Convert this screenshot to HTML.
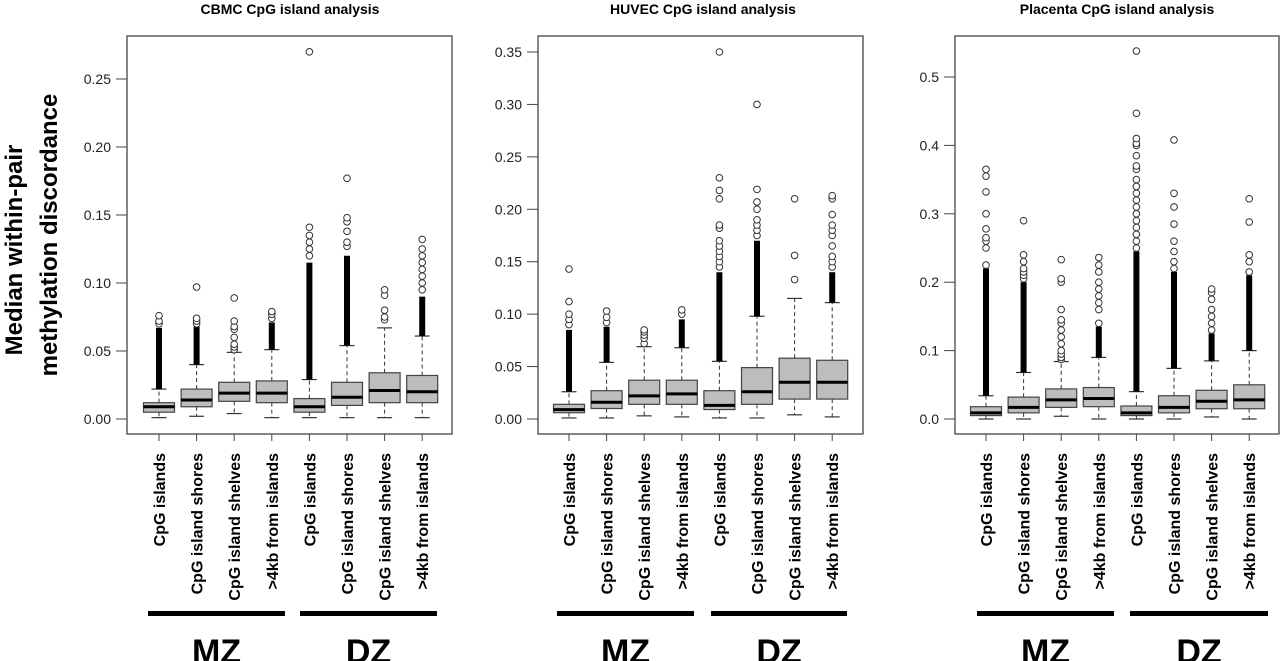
<!DOCTYPE html>
<html><head><meta charset="utf-8">
<style>
html,body{margin:0;padding:0;background:#fff;}
svg{display:block;}
text{font-family:"Liberation Sans",Arial,sans-serif;}
</style></head>
<body>
<svg id="chart" width="1280" height="661" viewBox="0 0 1280 661" xmlns="http://www.w3.org/2000/svg">
<g>
<text x="22" y="250" transform="rotate(-90 22 250)" text-anchor="middle" font-size="24" font-weight="bold" fill="#000">Median within-pair</text>
<text x="57" y="235" transform="rotate(-90 57 235)" text-anchor="middle" font-size="24" font-weight="bold" fill="#000">methylation discordance</text>
</g>
</svg>
<script>
// categories
const categories = ["CpG islands","CpG island shores","CpG island shelves",">4kb from islands","CpG islands","CpG island shores","CpG island shelves",">4kb from islands"];
const groupLabels = ["MZ","DZ"];
const panelTitles = ["CBMC CpG island analysis","HUVEC CpG island analysis","Placenta  CpG island analysis"];
// tick labels
const ticksCBMC = [0.00,0.05,0.10,0.15,0.20,0.25];
const tickLabelsCBMC = ["0.00","0.05","0.10","0.15","0.20","0.25"];
const ticksHUVEC = [0.00,0.05,0.10,0.15,0.20,0.25,0.30,0.35];
const tickLabelsHUVEC = ["0.00","0.05","0.10","0.15","0.20","0.25","0.30","0.35"];
const ticksPlac = [0.0,0.1,0.2,0.3,0.4,0.5];
const tickLabelsPlac = ["0.0","0.1","0.2","0.3","0.4","0.5"];
// CBMC box stats
const cbmcLow = [0.001,0.002,0.004,0.001,0.001,0.001,0.001,0.001];
const cbmcQ1 = [0.005,0.009,0.013,0.012,0.005,0.010,0.012,0.012];
const cbmcMed = [0.009,0.014,0.019,0.019,0.009,0.016,0.021,0.020];
const cbmcQ3 = [0.012,0.022,0.027,0.028,0.015,0.027,0.034,0.032];
const cbmcHigh = [0.022,0.040,0.049,0.051,0.029,0.054,0.067,0.061];
const cbmcDenseTop = [0.067,0.068,0.049,0.071,0.115,0.120,0.067,0.090];
const cbmcOutliers = [[0.070,0.072,0.076],[0.070,0.072,0.074,0.097],[0.051,0.053,0.055,0.060,0.066,0.068,0.072,0.089],[0.074,0.077,0.079],[0.120,0.125,0.130,0.135,0.141,0.270],[0.127,0.130,0.138,0.145,0.148,0.177],[0.073,0.075,0.080,0.091,0.095],[0.095,0.100,0.105,0.110,0.115,0.120,0.125,0.132]];
// HUVEC box stats
const huvLow = [0.001,0.001,0.003,0.002,0.001,0.001,0.004,0.002];
const huvQ1 = [0.006,0.010,0.014,0.014,0.009,0.014,0.019,0.019];
const huvMed = [0.009,0.016,0.022,0.024,0.013,0.026,0.035,0.035];
const huvQ3 = [0.014,0.027,0.037,0.037,0.027,0.049,0.058,0.056];
const huvHigh = [0.026,0.054,0.069,0.068,0.055,0.098,0.115,0.111];
const huvDenseTop = [0.085,0.088,0.069,0.095,0.140,0.170,0.115,0.140];
const huvOutliers = [[0.090,0.095,0.100,0.112,0.143],[0.092,0.097,0.103],[0.072,0.077,0.080,0.083,0.085],[0.100,0.104],[0.145,0.150,0.155,0.160,0.165,0.170,0.182,0.185,0.210,0.218,0.230,0.350],[0.175,0.180,0.185,0.190,0.200,0.207,0.219,0.300],[0.133,0.156,0.210],[0.145,0.150,0.155,0.165,0.175,0.180,0.185,0.195,0.210,0.213]];
// Placenta box stats
const plaLow = [0.000,0.000,0.004,0.000,0.000,0.000,0.003,0.000];
const plaQ1 = [0.005,0.009,0.017,0.018,0.005,0.009,0.015,0.015];
const plaMed = [0.009,0.017,0.028,0.030,0.009,0.017,0.026,0.028];
const plaQ3 = [0.018,0.032,0.044,0.046,0.019,0.034,0.042,0.050];
const plaHigh = [0.034,0.068,0.084,0.090,0.040,0.074,0.085,0.100];
const plaDenseTop = [0.220,0.200,0.084,0.135,0.245,0.215,0.125,0.210];
const plaOutliers = [[0.225,0.250,0.260,0.265,0.278,0.300,0.332,0.355,0.365],[0.205,0.210,0.215,0.220,0.230,0.240,0.290],[0.087,0.090,0.095,0.100,0.110,0.120,0.130,0.140,0.145,0.160,0.200,0.205,0.233],[0.140,0.160,0.170,0.180,0.190,0.200,0.215,0.225,0.236],[0.250,0.260,0.270,0.280,0.290,0.300,0.310,0.320,0.330,0.340,0.350,0.365,0.370,0.385,0.400,0.403,0.410,0.447,0.538],[0.220,0.230,0.245,0.260,0.285,0.310,0.330,0.408],[0.130,0.140,0.150,0.160,0.175,0.185,0.190],[0.215,0.230,0.240,0.288,0.322]];

const NS="http://www.w3.org/2000/svg";
const svg=document.getElementById('chart');
function mk(tag,attrs,parent){const e=document.createElementNS(NS,tag);for(const k in attrs)e.setAttribute(k,attrs[k]);(parent||svg).appendChild(e);return e;}

const panels=[
 {left:127,right:452,title:panelTitles[0],tcx:290,ticks:ticksCBMC,tl:tickLabelsCBMC,vmax:0.25,y0:419,ymax:79,x0:159,low:cbmcLow,q1:cbmcQ1,med:cbmcMed,q3:cbmcQ3,high:cbmcHigh,dense:cbmcDenseTop,out:cbmcOutliers,bars:[[148,285],[300,437]]},
 {left:538,right:863,title:panelTitles[1],tcx:703,ticks:ticksHUVEC,tl:tickLabelsHUVEC,vmax:0.35,y0:419,ymax:52,x0:569,low:huvLow,q1:huvQ1,med:huvMed,q3:huvQ3,high:huvHigh,dense:huvDenseTop,out:huvOutliers,bars:[[557,694],[711,847]]},
 {left:955,right:1279,title:panelTitles[2],tcx:1117,ticks:ticksPlac,tl:tickLabelsPlac,vmax:0.5,y0:419,ymax:77,x0:986,low:plaLow,q1:plaQ1,med:plaMed,q3:plaQ3,high:plaHigh,dense:plaDenseTop,out:plaOutliers,bars:[[977,1114],[1130,1268]]}
];
const step=37.6, bw=31, cap=15;

panels.forEach((p,pi)=>{
 const g=mk('g',{});
 
 
 const yS=v=>p.y0-(v/p.vmax)*(p.y0-p.ymax);
 const xS=i=>p.x0+i*step;
 const t=mk('text',{x:p.tcx,y:14,'text-anchor':'middle','font-size':14,'font-weight':'bold'},g);
 t.textContent=p.title;
 
 
 const frame=mk('rect',{x:p.left,y:36,width:p.right-p.left,height:398,fill:'none',stroke:'#444','stroke-width':1.3},g);
 
 
 p.ticks.forEach((v,i)=>{
  const y=yS(v);
  mk('line',{x1:p.left-11,x2:p.left,y1:y,y2:y,stroke:'#444','stroke-width':1},g);
  const tx=mk('text',{x:p.left-16,y:y+5,'text-anchor':'end','font-size':14,fill:'#222'},g);
  tx.textContent=p.tl[i];
  
  
 });
 categories.forEach((c,i)=>{
  const x=xS(i);
  const bg=mk('g',{},g);
  
  
  mk('line',{x1:x,x2:x,y1:yS(p.q3[i]),y2:yS(p.high[i]),stroke:'#333','stroke-dasharray':'4,3','stroke-width':1},bg);
  mk('line',{x1:x,x2:x,y1:yS(p.q1[i]),y2:yS(p.low[i]),stroke:'#333','stroke-dasharray':'4,3','stroke-width':1},bg);
  mk('line',{x1:x-cap/2,x2:x+cap/2,y1:yS(p.high[i]),y2:yS(p.high[i]),stroke:'#333','stroke-width':1.2},bg);
  mk('line',{x1:x-cap/2,x2:x+cap/2,y1:yS(p.low[i]),y2:yS(p.low[i]),stroke:'#333','stroke-width':1.2},bg);
  if(p.dense[i]>p.high[i]) mk('line',{x1:x,x2:x,y1:yS(p.high[i]),y2:yS(p.dense[i]),stroke:'#000','stroke-width':6},bg);
  p.out[i].forEach(v=>mk('circle',{cx:x,cy:yS(v),r:3.3,fill:'#fff',stroke:'#333','stroke-width':1},bg));
  mk('rect',{x:x-bw/2,y:yS(p.q3[i]),width:bw,height:yS(p.q1[i])-yS(p.q3[i]),fill:'#bdbdbd',stroke:'#444','stroke-width':1.2},bg);
  mk('line',{x1:x-bw/2,x2:x+bw/2,y1:yS(p.med[i]),y2:yS(p.med[i]),stroke:'#000','stroke-width':3},bg);
  mk('line',{x1:x,x2:x,y1:434,y2:441,stroke:'#444','stroke-width':1},g);
  const lt=mk('text',{x:0,y:0,transform:'translate('+(x+6)+',453) rotate(-90)','text-anchor':'end','font-size':16,'font-weight':'bold'},g);
  lt.textContent=c;
  
  
 });
 p.bars.forEach((b,k)=>{
  const r=mk('rect',{x:b[0],y:611,width:b[1]-b[0],height:5,fill:'#000'},g);
  
  
  const gt=mk('text',{x:(b[0]+b[1])/2,y:663,'text-anchor':'middle','font-size':34,'font-weight':'bold'},g);
  gt.textContent=groupLabels[k];
  
  
 });
});
</script>
</body></html>
